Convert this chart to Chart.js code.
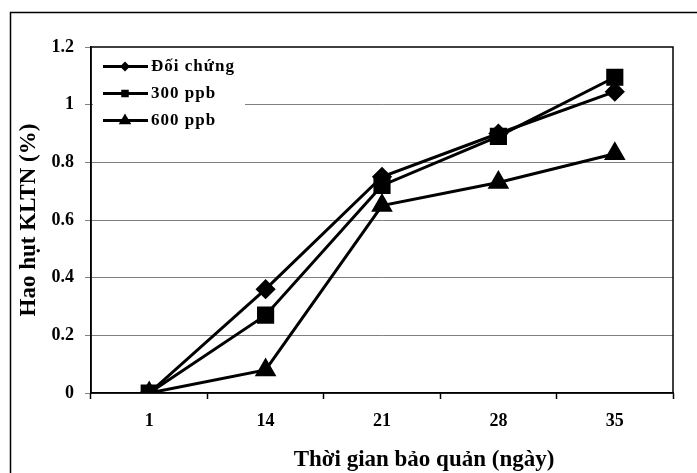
<!DOCTYPE html>
<html>
<head>
<meta charset="utf-8">
<script src="https://cdn.jsdelivr.net/npm/chart.js@4/dist/chart.umd.min.js"></script>
<style>
  html, body { margin: 0; padding: 0; background: #fff; }
  #wrap { width: 697px; height: 473px; }
</style>
</head>
<body>
<div id="wrap"><canvas id="myChart" width="697" height="473"></canvas></div>
<script>
// data
var days = ["1", "14", "21", "28", "35"]
var doiChung = [0, 0.36, 0.75, 0.90, 1.045]
var ppb300 = [0, 0.27, 0.72, 0.89, 1.095]
var ppb600 = [0, 0.08, 0.65, 0.73, 0.83]
var seriesNames = ["Đối chứng", "300 ppb", "600 ppb"]
var yTicks = [0, 0.2, 0.4, 0.6, 0.8, 1, 1.2]
var xTitle = "Thời gian bảo quản (ngày)"
var yTitle = "Hao hụt KLTN (%)"

var serif = "'Liberation Serif', 'Times New Roman', serif"

// outer frame of the figure (only left & top edges visible) + plot box + x title
var framePlugin = {
  id: "frame",
  beforeDraw: function (chart) {
    var ctx = chart.ctx
    ctx.save()
    ctx.fillStyle = "#fff"
    ctx.fillRect(0, 0, chart.width, chart.height)
    ctx.strokeStyle = "#000"
    ctx.lineWidth = 1.5
    ctx.beginPath()
    ctx.moveTo(10.5, chart.height)
    ctx.lineTo(10.5, 12.5)
    ctx.lineTo(chart.width, 12.5)
    ctx.stroke()
    ctx.restore()
  },
  afterDraw: function (chart) {
    var a = chart.chartArea
    var ctx = chart.ctx
    ctx.save()
    ctx.strokeStyle = "#000"
    ctx.lineWidth = 1.5
    ctx.strokeRect(a.left, a.top, a.right - a.left, a.bottom - a.top)
    // x axis title sits right of the plot centre in the original
    ctx.fillStyle = "#000"
    ctx.font = "bold 23px " + serif
    ctx.textAlign = "center"
    ctx.textBaseline = "alphabetic"
    ctx.fillText(xTitle, 424, 466)
    ctx.restore()
  }
}

function marker(ctx, style, x, y, r) {
  ctx.beginPath()
  if (style == "rectRot") {
    ctx.moveTo(x, y - r); ctx.lineTo(x + r, y); ctx.lineTo(x, y + r); ctx.lineTo(x - r, y)
  } else if (style == "rect") {
    ctx.rect(x - r * 0.75, y - r * 0.75, r * 1.5, r * 1.5)
  } else {
    ctx.moveTo(x, y - r); ctx.lineTo(x + r * 0.9, y + r * 0.55); ctx.lineTo(x - r * 0.9, y + r * 0.55)
  }
  ctx.closePath()
  ctx.fill()
}

var legendPlugin = {
  id: "boxLegend",
  afterDatasetsDraw: function (chart) {
    var ctx = chart.ctx
    ctx.save()
    ctx.fillStyle = "#fff"
    ctx.fillRect(93, 52, 152, 82)
    var sizes = [5, 5, 7]
    chart.data.datasets.forEach(function (ds, i) {
      var y = 66.5 + i * 27
      ctx.strokeStyle = "#000"
      ctx.lineWidth = 3
      ctx.beginPath()
      ctx.moveTo(103, y)
      ctx.lineTo(148, y)
      ctx.stroke()
      ctx.fillStyle = "#000"
      marker(ctx, ds.pointStyle, 125, y, sizes[i])
      ctx.font = "bold 17px " + serif
      ctx.letterSpacing = "1px"
      ctx.textBaseline = "middle"
      ctx.textAlign = "left"
      ctx.fillText(ds.label, 151, y)
    })
    ctx.restore()
  }
}

var myChart = document.getElementById("myChart").getContext("2d")

var lineChart = new Chart(myChart, {
  type: "line",
  data: {
    labels: days,
    datasets: [{
      label: seriesNames[0],
      data: doiChung,
      borderColor: "#000",
      backgroundColor: "#000",
      borderWidth: 3,
      pointStyle: "rectRot",
      pointRadius: 8,
      tension: 0
    }, {
      label: seriesNames[1],
      data: ppb300,
      borderColor: "#000",
      backgroundColor: "#000",
      borderWidth: 3,
      pointStyle: "rect",
      pointRadius: 10,
      tension: 0
    }, {
      label: seriesNames[2],
      data: ppb600,
      borderColor: "#000",
      backgroundColor: "#000",
      borderWidth: 3,
      pointStyle: "triangle",
      pointRadius: 9.5,
      tension: 0
    }]
  },
  options: {
    responsive: false,
    animation: false,
    layout: { padding: { top: 47, right: 24, left: 0, bottom: 0 } },
    plugins: {
      legend: { display: false },
      tooltip: { enabled: false }
    },
    scales: {
      x: {
        offset: true,
        grid: { offset: true, drawOnChartArea: false, drawTicks: true, tickLength: 6, tickColor: "#000", tickWidth: 1.5 },
        border: { color: "#000", width: 1.5 },
        ticks: { color: "#000", padding: 12, font: { family: serif, size: 18, weight: "bold" } },
        afterFit: function (scale) { scale.height = 80 }
      },
      y: {
        min: 0,
        max: 1.2,
        afterBuildTicks: function (scale) {
          scale.ticks = yTicks.map(function (v) { return { value: v } })
        },
        grid: {
          color: function (c) {
            var v = c.tick ? c.tick.value : 0
            return (v > 0.01 && v < 1.19) ? "#808080" : "rgba(0,0,0,0)"
          },
          tickColor: "#808080",
          tickLength: 6,
          lineWidth: 1
        },
        border: { color: "#000", width: 1.5 },
        ticks: {
          color: "#000",
          padding: 11,
          font: { family: serif, size: 18, weight: "bold" },
          callback: function (v) { return String(parseFloat(Number(v).toFixed(1))) }
        },
        title: {
          display: true,
          text: yTitle,
          color: "#000",
          font: { family: serif, size: 23, weight: "bold", lineHeight: 1.2 },
          padding: { top: 15, bottom: 0 }
        },
        afterFit: function (scale) { scale.width = 91 }
      }
    }
  },
  plugins: [framePlugin, legendPlugin]
})
</script>
</body>
</html>
